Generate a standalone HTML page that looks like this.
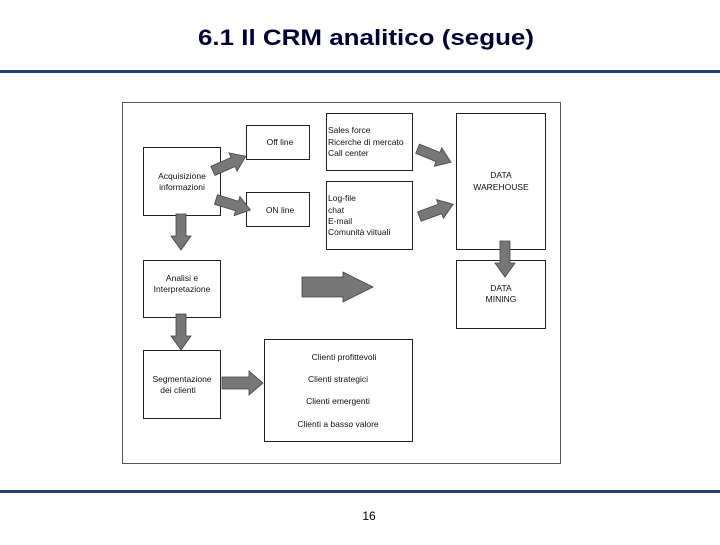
<!DOCTYPE html>
<html><head><style>
body{margin:0;width:720px;height:540px;background:#fff;overflow:hidden;font-family:"Liberation Sans",sans-serif}
</style></head><body>
<svg width="720" height="540" xmlns="http://www.w3.org/2000/svg" font-family="Liberation Sans, sans-serif">
<defs>
<polygon id="ar" points="0,-5 -22,-5 -22,5 0,5 0,10 14,0 0,-10" fill="#777" stroke="#444" stroke-width="0.8"/>
</defs>
<text x="198" y="45" font-size="22" font-weight="bold" fill="#000033" textLength="336" lengthAdjust="spacingAndGlyphs">6.1 Il CRM analitico (segue)</text>
<rect x="0" y="70" width="720" height="3" fill="#1f3f7f"/>
<rect x="0" y="490" width="720" height="3" fill="#1f3f7f"/>
<text x="369" y="520" text-anchor="middle" font-size="12">16</text>
<rect x="122.5" y="102.5" width="438" height="361" fill="#fff" stroke="#555" stroke-width="1"/>
<g fill="#fff" stroke="#222" stroke-width="1">
<rect x="143.5" y="147.5" width="77" height="68"/>
<rect x="246.5" y="125.5" width="63" height="34"/>
<rect x="246.5" y="192.5" width="63" height="34"/>
<rect x="326.5" y="113.5" width="86" height="57"/>
<rect x="326.5" y="181.5" width="86" height="68"/>
<rect x="456.5" y="113.5" width="89" height="136"/>
<rect x="456.5" y="260.5" width="89" height="68"/>
<rect x="143.5" y="260.5" width="77" height="57"/>
<rect x="143.5" y="350.5" width="77" height="68"/>
<rect x="264.5" y="339.5" width="148" height="102"/>
</g>
<g font-size="8.5" fill="#111">
<text x="182" y="179" text-anchor="middle">Acquisizione</text>
<text x="182" y="190" text-anchor="middle">informazioni</text>
<text x="280" y="145" text-anchor="middle">Off line</text>
<text x="280" y="213" text-anchor="middle">ON line</text>
<text x="328" y="133">Sales force</text>
<text x="328" y="145">Ricerche di mercato</text>
<text x="328" y="156">Call center</text>
<text x="328" y="201">Log-file</text>
<text x="328" y="213">chat</text>
<text x="328" y="224">E-mail</text>
<text x="328" y="235">Comunità viituali</text>
<text x="501" y="178" text-anchor="middle">DATA</text>
<text x="501" y="190" text-anchor="middle">WAREHOUSE</text>
<text x="501" y="291" text-anchor="middle">DATA</text>
<text x="501" y="302" text-anchor="middle">MINING</text>
<text x="182" y="281" text-anchor="middle">Analisi e</text>
<text x="182" y="292" text-anchor="middle">Interpretazione</text>
<text x="182" y="382" text-anchor="middle">Segmentazione</text>
<text x="178" y="393" text-anchor="middle">dei clienti</text>
<text x="344" y="360" text-anchor="middle">Clienti profittevoli</text>
<text x="338" y="382" text-anchor="middle">Clienti strategici</text>
<text x="338" y="404" text-anchor="middle">Clienti emergenti</text>
<text x="338" y="427" text-anchor="middle">Clienti a basso valore</text>
</g>
<use href="#ar" transform="translate(233,162) rotate(-24)"/>
<use href="#ar" transform="translate(237,206) rotate(17)"/>
<use href="#ar" transform="translate(438,157) rotate(22)"/>
<use href="#ar" transform="translate(440,209) rotate(-20)"/>
<use href="#ar" transform="translate(181,236) rotate(90)"/>
<use href="#ar" transform="translate(181,336) rotate(90)"/>
<use href="#ar" transform="translate(505,263) rotate(90)"/>
<polygon points="222,377 249,377 249,371 263,383 249,395 249,389 222,389" fill="#777" stroke="#444" stroke-width="0.8"/>
<polygon points="302,277 343,277 343,272 373,287 343,302 343,297 302,297" fill="#777" stroke="#444" stroke-width="0.8"/>
</svg>
</body></html>
